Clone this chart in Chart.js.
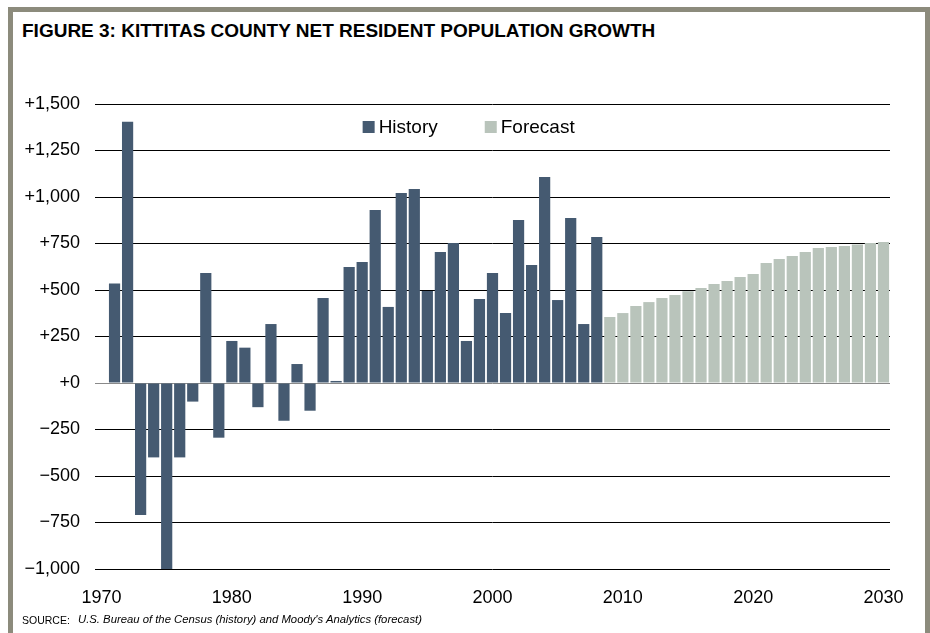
<!DOCTYPE html>
<html>
<head>
<meta charset="utf-8">
<script src="https://cdn.jsdelivr.net/npm/chart.js@4.4.1/dist/chart.umd.min.js"></script>
<style>
  html, body { margin: 0; padding: 0; background: #fff; }
  body { width: 930px; height: 633px; position: relative; overflow: hidden; font-family: "Liberation Sans", Arial, sans-serif; }
  #frame { position: absolute; left: 8px; top: 7px; width: 912px; height: 640px;
           border: 5px solid #8c8b7c; border-bottom: none; }
  #title { position: absolute; left: 22px; top: 20px; font-weight: bold; font-size: 19px; color: #000; white-space: nowrap; }
  #source-label { position: absolute; left: 22px; top: 614px; font-size: 10.5px; color: #000; white-space: nowrap; }
  #source-text { position: absolute; left: 78px; top: 613px; font-size: 11.3px; font-style: italic; color: #000; white-space: nowrap; }
  #wrap { position: absolute; left: 0; top: 0; width: 930px; height: 633px; }
</style>
</head>
<body>
<div id="frame"></div>
<div id="title">FIGURE 3: KITTITAS COUNTY NET RESIDENT POPULATION GROWTH</div>
<div id="wrap"><canvas id="chart" width="930" height="633"></canvas></div>
<div id="source-label">SOURCE:</div>
<div id="source-text">U.S. Bureau of the Census (history) and Moody's Analytics (forecast)</div>
<script>
// Year categories (1970 is an empty leading slot on the axis)
const years = [
  1970, 1971, 1972, 1973, 1974, 1975, 1976, 1977, 1978, 1979,
  1980, 1981, 1982, 1983, 1984, 1985, 1986, 1987, 1988, 1989,
  1990, 1991, 1992, 1993, 1994, 1995, 1996, 1997, 1998, 1999,
  2000, 2001, 2002, 2003, 2004, 2005, 2006, 2007, 2008, 2009,
  2010, 2011, 2012, 2013, 2014, 2015, 2016, 2017, 2018, 2019,
  2020, 2021, 2022, 2023, 2024, 2025, 2026, 2027, 2028, 2029, 2030
];

// Net resident population change, 1971-2008
const historyYears = [
  1971, 1972, 1973, 1974, 1975, 1976, 1977, 1978, 1979, 1980,
  1981, 1982, 1983, 1984, 1985, 1986, 1987, 1988, 1989, 1990,
  1991, 1992, 1993, 1994, 1995, 1996, 1997, 1998, 1999, 2000,
  2001, 2002, 2003, 2004, 2005, 2006, 2007, 2008
];
const historyValues = [
  535, 1405, -710, -400, -1000, -400, -100, 592, -294, 226,
  190, -130, 317, -203, 102, -149, 457, 11, 624, 651,
  930, 409, 1021, 1043, 495, 704, 753, 226, 452, 591,
  376, 876, 634, 1108, 446, 887, 317, 785
];

// Projected net change, 2009-2030
const forecastYears = [
  2009, 2010, 2011, 2012, 2013, 2014, 2015, 2016, 2017, 2018, 2019,
  2020, 2021, 2022, 2023, 2024, 2025, 2026, 2027, 2028, 2029, 2030
];
const forecastValues = [
  355, 376, 414, 435, 457, 473, 493, 511, 532, 548, 570,
  586, 645, 667, 683, 704, 726, 731, 736, 745, 753, 758
];

// Value axis ticks
const yTicks = [-1000, -750, -500, -250, 0, 250, 500, 750, 1000, 1250, 1500];
// Year labels shown under the axis
const xTickYears = [1970, 1980, 1990, 2000, 2010, 2020, 2030];

function alignToYears(srcYears, srcValues) {
  return years.map(y => {
    const i = srcYears.indexOf(y);
    return i === -1 ? null : srcValues[i];
  });
}

function formatSigned(v) {
  const abs = Math.abs(v).toLocaleString('en-US');
  if (v < 0) return '\u2212' + abs;
  return '+' + abs;
}

const FONT = '"Liberation Sans", Arial, sans-serif';

// Inline legend drawn inside the plot area
const inlineLegend = {
  id: 'inlineLegend',
  afterDraw(chart, args, opts) {
    const { ctx, chartArea } = chart;
    const box = opts.boxSize, gapText = opts.textGap, gapItem = opts.itemGap;
    ctx.save();
    ctx.font = opts.fontSize + 'px ' + FONT;
    ctx.textBaseline = 'middle';
    const items = chart.data.datasets.map(ds => ({
      label: ds.label, color: ds.backgroundColor,
      w: box + gapText + ctx.measureText(ds.label).width
    }));
    const total = items.reduce((s, it) => s + it.w, 0) + gapItem * (items.length - 1);
    let x = chartArea.left + chartArea.width * opts.centerFrac - total / 2;
    const cy = chartArea.top + opts.offsetY;
    items.forEach(it => {
      ctx.fillStyle = it.color;
      ctx.fillRect(x, cy - box / 2, box, box);
      ctx.fillStyle = '#000';
      ctx.textAlign = 'left';
      ctx.fillText(it.label, x + box + gapText, cy + 1);
      x += it.w + gapItem;
    });
    ctx.restore();
  }
};

new Chart(document.getElementById('chart'), {
  type: 'bar',
  data: {
    labels: years,
    datasets: [
      {
        label: 'History',
        data: alignToYears(historyYears, historyValues),
        backgroundColor: '#455a71'
      },
      {
        label: 'Forecast',
        data: alignToYears(forecastYears, forecastValues),
        backgroundColor: '#b9c4bb'
      }
    ]
  },
  options: {
    responsive: false,
    animation: false,
    devicePixelRatio: 1,
    layout: { padding: { left: 0, right: 40, top: 104, bottom: 22 } },
    datasets: { bar: { grouped: false, barPercentage: 0.86, categoryPercentage: 1.0 } },
    plugins: {
      legend: { display: false },
      tooltip: { enabled: false },
      inlineLegend: { boxSize: 12, textGap: 4, itemGap: 47, fontSize: 19, centerFrac: 0.47, offsetY: 23 }
    },
    scales: {
      x: {
        offset: true,
        grid: { display: false, drawTicks: false },
        border: { display: false },
        ticks: {
          autoSkip: false,
          maxRotation: 0,
          minRotation: 0,
          padding: 18,
          color: '#000',
          font: { family: FONT, size: 18 },
          callback(value) {
            const y = years[value];
            return xTickYears.includes(y) ? String(y) : '';
          }
        },
        afterFit(scale) { scale.height = 42; }
      },
      y: {
        min: -1000,
        max: 1500,
        afterBuildTicks(scale) { scale.ticks = yTicks.map(v => ({ value: v })); },
        grid: {
          drawTicks: false,
          lineWidth: 1,
          color: ctx => (ctx.tick && ctx.tick.value === 0) ? '#8a8a8a' : '#000'
        },
        border: { display: false },
        ticks: {
          padding: 15,
          color: '#000',
          font: { family: FONT, size: 18 },
          callback: v => formatSigned(v)
        },
        afterFit(scale) { scale.width = 95; }
      }
    }
  },
  plugins: [inlineLegend]
});
</script>
</body>
</html>
